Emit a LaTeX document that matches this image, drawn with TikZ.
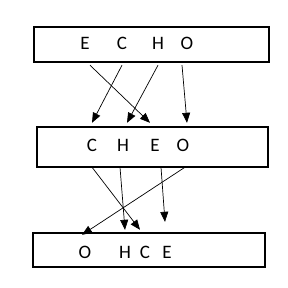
\documentclass[tikz,border=0pt]{standalone}
\usepackage{fontspec}
\setmainfont{Carlito}
\usetikzlibrary{arrows.meta}
\begin{document}
\begin{tikzpicture}[x=1pt,y=-1pt,
  box/.style={draw,line width=1.2pt,inner sep=0pt},
  letter/.style={font=\fontsize{19}{19}\selectfont,minimum height=44pt,inner sep=0pt},
  arr/.style={-{Triangle[length=10pt,width=8pt]},line width=0.7pt}]
\useasboundingbox (0,0) rectangle (288,288);

% the three rows
\node[box,minimum width=235pt,minimum height=35pt] (row1) at (151.5,44.5) {};
\node[box,minimum width=231pt,minimum height=40pt] (row2) at (152.5,147) {};
\node[box,minimum width=232pt,minimum height=34pt] (row3) at (149,250) {};

% letters
\foreach \n/\x/\t in {e1/85/E,c1/122/C,h1/158/H,o1/187/O}
  \node[letter] (\n) at (\x,43) {\t};
\foreach \n/\x/\t in {c2/92/C,h2/123/H,e2/155/E,o2/183/O}
  \node[letter] (\n) at (\x,145) {\t};
\foreach \n/\x/\t in {o3/85/O,h3/125/H,c3/145/C,e3/167/E}
  \node[letter] (\n) at (\x,252) {\t};

% first step
\draw[arr] ([xshift=5pt]e1.south) -- ([xshift=-5pt]e2.north);
\draw[arr] (c1.south) -- (c2.north);
\draw[arr] (h1.south) -- ([xshift=4pt]h2.north);
\draw[arr] ([xshift=-5pt]o1.south) -- ([xshift=4pt]o2.north);

% second step
\draw[arr] (c2.south) -- ([xshift=-5pt]c3.north);
\draw[arr] ([xshift=-3pt]h2.south) -- (h3.north);
\draw[arr] ([xshift=6pt]e2.south) -- ([xshift=-2pt,yshift=8pt]e3.north);
\draw[arr] ([xshift=2pt]o2.south) -- ([xshift=-3pt,yshift=-5pt]o3.north);
\end{tikzpicture}
\end{document}
